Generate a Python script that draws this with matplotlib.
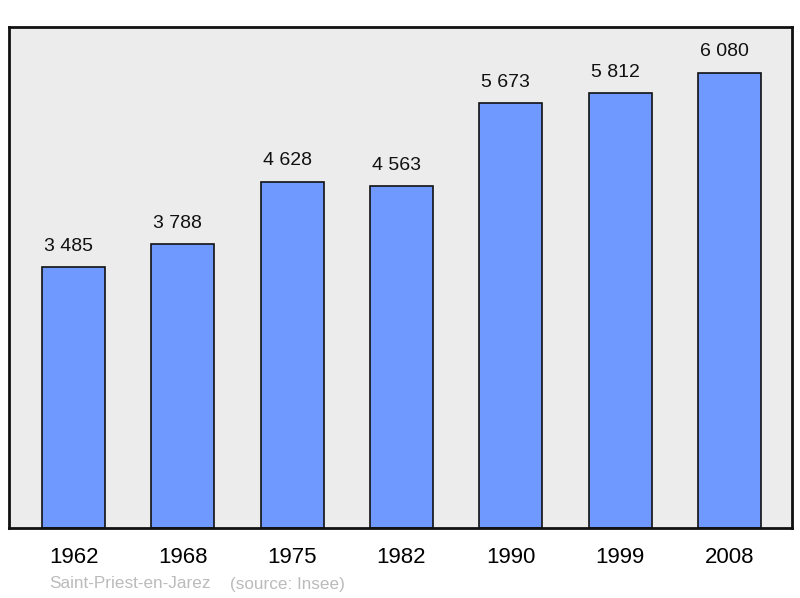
import numpy as np
import matplotlib.pyplot as plt

years = ['1962', '1968', '1975', '1982', '1990', '1999', '2008']
population = [3485, 3788, 4628, 4563, 5673, 5812, 6080]
value_labels = ['3 485', '3 788', '4 628', '4 563', '5 673', '5 812', '6 080']

plt.rcParams['font.family'] = ['Liberation Sans', 'DejaVu Sans']

fig = plt.figure(figsize=(8, 5.98), dpi=100)
fig.set_facecolor('white')
ax = fig.add_axes([9 / 800, 70 / 598, 783 / 800, 501 / 598])
ax.set_facecolor('#ececec')

x = np.arange(len(years))
ax.bar(x, population, width=0.576, color='#7099ff', edgecolor='#111111',
       linewidth=1.2, zorder=2)
for xi, v, lab in zip(x, population, value_labels):
    ax.annotate(lab, (xi, v), xytext=(-3.6, 9), textcoords='offset points',
                ha='center', va='bottom', fontsize=14, color='#111111')

ax.set_xlim(-0.59, 6.572)
ax.set_ylim(0, 6694)
ax.set_xticks(x)
ax.set_xticklabels(years, fontsize=16)
ax.tick_params(axis='x', length=0, pad=14)
ax.set_yticks([])
for s in ax.spines.values():
    s.set_linewidth(2)
    s.set_color('#111111')

fig.text(49 / 800, 1 - 584 / 598, 'Saint-Priest-en-Jarez', fontsize=12.3,
         color='#bbbbbb', va='center', ha='left')
fig.text(230 / 800, 1 - 584 / 598, '(source: Insee)', fontsize=12.3,
         color='#bbbbbb', va='center', ha='left')

fig.savefig('out.png', dpi=100)
